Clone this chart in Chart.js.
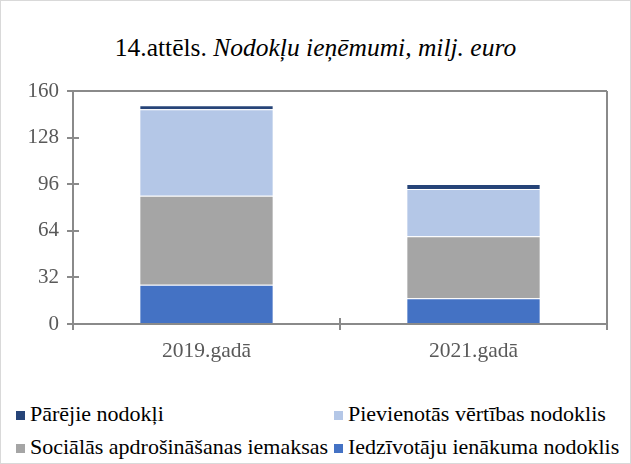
<!DOCTYPE html>
<html>
<head>
<meta charset="utf-8">
<script src="https://cdn.jsdelivr.net/npm/chart.js@4.4.0/dist/chart.umd.min.js"></script>
<style>
  html, body { margin: 0; padding: 0; background: #fff; }
  #wrap { position: relative; width: 629px; height: 462px; border: 1px solid #d9d9d9; overflow: hidden; font-family: "Liberation Serif", "Times New Roman", serif; }
  #title { position: absolute; left: 0; top: 29px; width: 629px; text-align: center; font-size: 25.5px; color: #000; line-height: 36px; }
  #title i { font-style: italic; }
  #cwrap { position: absolute; left: 0; top: 0; width: 631px; height: 375px; }
  #legend { position: absolute; left: 15px; top: 401px; width: 616px; font-size: 22px; color: #000; }
  .li { position: absolute; white-space: nowrap; line-height: 24px; }
  .sw { display: inline-block; width: 9px; height: 9px; margin-right: 5px; vertical-align: 1px; }
</style>
</head>
<body>
<div id="wrap">
  <div id="title">14.attēls. <i>Nodokļu ieņēmumi, milj. euro</i></div>
  <div id="cwrap"><canvas id="c"></canvas></div>
  <div id="legend"></div>
</div>
<script>
const categories = ["2019.gadā", "2021.gadā"];
const iedzivotajuIenakuma = [26.9, 17.7];
const socialasApdrosinasanas = [61.2, 42.5];
const pievienotasVertibas = [59.4, 32.5];
const parejieNodokli = [2.7, 3.4];
const yTicks = [0, 32, 64, 96, 128, 160];

const seriesNames = ["Iedzīvotāju ienākuma nodoklis", "Sociālās apdrošināšanas iemaksas", "Pievienotās vērtības nodoklis", "Pārējie nodokļi"];
const seriesColors = ["#4472c4", "#a5a5a5", "#b4c7e7", "#264478"];
const seriesData = [iedzivotajuIenakuma, socialasApdrosinasanas, pievienotasVertibas, parejieNodokli];

const AXIS = "#8a8a8a";

const crossTicks = {
  id: "crossTicks",
  afterDraw(chart) {
    const ctx = chart.ctx, ca = chart.chartArea;
    const y = chart.scales.y, x = chart.scales.x;
    ctx.save();
    ctx.strokeStyle = AXIS;
    ctx.lineWidth = 2;
    ctx.beginPath();
    ctx.moveTo(ca.left, ca.top); ctx.lineTo(ca.right, ca.top);
    ctx.moveTo(ca.right, ca.top); ctx.lineTo(ca.right, ca.bottom);
    ctx.stroke();
    ctx.beginPath();
    yTicks.forEach(v => {
      const py = Math.round(y.getPixelForValue(v));
      ctx.moveTo(ca.left, py); ctx.lineTo(ca.left + 6, py);
    });
    const n = categories.length;
    for (let i = 0; i <= n; i++) {
      const px = x.getPixelForValue(i - 0.5);
      ctx.moveTo(px, ca.bottom); ctx.lineTo(px, ca.bottom - 6);
    }
    ctx.stroke();
    ctx.restore();
  }
};

const chart = new Chart(document.getElementById("c"), {
  type: "bar",
  data: {
    labels: categories,
    datasets: seriesNames.map((name, i) => ({
      label: name,
      data: seriesData[i],
      backgroundColor: seriesColors[i],
      borderColor: "rgba(255,255,255,0.55)",
      borderWidth: 1,
      barPercentage: 0.503,
      categoryPercentage: 1.0
    }))
  },
  options: {
    responsive: true,
    maintainAspectRatio: false,
    animation: false,
    layout: { padding: { top: 90, right: 25, left: 0, bottom: 0 } },
    plugins: { legend: { display: false }, title: { display: false }, tooltip: { enabled: false } },
    scales: {
      x: {
        stacked: true,
        grid: { display: true, drawOnChartArea: false, offset: true, color: AXIS, lineWidth: 2, tickLength: 6 },
        border: { display: true, color: AXIS, width: 2 },
        ticks: { color: "#595959", font: { family: "Liberation Serif", size: 21.5 }, padding: 8 },
        afterFit(s) { s.height = 52; }
      },
      y: {
        stacked: true,
        min: 0, max: 160,
        afterBuildTicks(s) { s.ticks = yTicks.map(v => ({ value: v })); },
        grid: { display: true, drawOnChartArea: false, color: AXIS, lineWidth: 2, tickLength: 6 },
        border: { display: true, color: AXIS, width: 2 },
        ticks: { color: "#595959", font: { family: "Liberation Serif", size: 21 }, padding: 8 },
        afterFit(s) { s.width = 72; }
      }
    }
  },
  plugins: [crossTicks]
});

const legendOrder = [3, 2, 1, 0];
const legendPos = [[0, 0], [318, 0], [0, 33], [318, 33]];
const leg = document.getElementById("legend");
legendOrder.forEach((di, k) => {
  const d = chart.data.datasets[di];
  const el = document.createElement("div");
  el.className = "li";
  el.style.left = legendPos[k][0] + "px";
  el.style.top = legendPos[k][1] + "px";
  el.innerHTML = '<span class="sw" style="background:' + d.backgroundColor + '"></span>' + d.label;
  leg.appendChild(el);
});
</script>
</body>
</html>
